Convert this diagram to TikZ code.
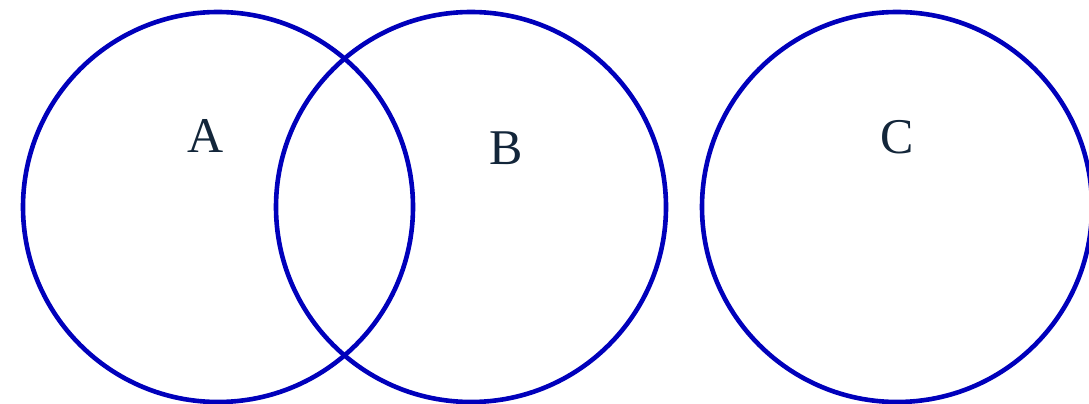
\documentclass[tikz,border=0pt]{standalone}
\usepackage{fontspec}
\setmainfont{Liberation Serif}
\definecolor{setblue}{HTML}{0000BB}
\definecolor{labelink}{HTML}{13263A}
\tikzset{
    setcircle/.style={circle, draw=setblue, line width=4.6pt, minimum size=390pt, inner sep=0pt},
    setlabel/.style={text=labelink, font=\fontsize{50}{54}\selectfont}
}
\begin{document}
\begin{tikzpicture}[x=1pt,y=-1pt]
            \useasboundingbox (0,0) rectangle (1089,404);
            \node[setcircle] (setA) at (218,207) {};
            \node[setcircle] (setB) at (471,207) {};
            \node[setcircle] (setC) at (897,207) {};
            \node[setlabel] (labA) at (206,136) {A};
            \node[setlabel] (labB) at (506,148) {B};
            \node[setlabel] (labC) at (897,137) {C};
        \end{tikzpicture}
\end{document}
